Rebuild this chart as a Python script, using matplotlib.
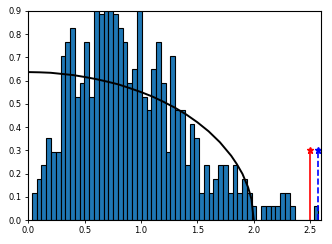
import numpy as np
import matplotlib
matplotlib.use("Agg")
import matplotlib.pyplot as plt

# histogram counts per bin (400 samples, 60 bins)
counts = [2, 3, 4, 6, 5, 5, 12, 13, 14, 9, 10, 13, 9, 18, 15, 19, 18, 15, 14, 13,
          10, 11, 18, 9, 8, 11, 13, 10, 5, 12, 8, 8, 4, 7, 6, 2, 4, 2, 3, 4,
          4, 2, 4, 2, 3, 2, 1, 0, 1, 1, 1, 1, 2, 2, 1, 0, 0, 0, 0, 1]
n_samples = 400
x_first = 0.033
x_last = 2.574

# quarter-circle curve, points
curve_x = [0.0, 0.1, 0.2, 0.3, 0.4, 0.5, 0.6, 0.7, 0.8, 0.9, 1.0, 1.1, 1.2, 1.3,
           1.4, 1.5, 1.6, 1.7, 1.8, 1.85, 1.9, 1.95, 1.98, 2.0]
curve_y = [0.637, 0.636, 0.634, 0.629, 0.624, 0.616, 0.607, 0.596, 0.584, 0.568,
           0.551, 0.532, 0.509, 0.484, 0.455, 0.421, 0.382, 0.335, 0.277, 0.241,
           0.199, 0.141, 0.090, 0.0]

red_x = 2.5
blue_x = 2.568
marker_h = 0.3

edges = np.linspace(x_first, x_last, len(counts) + 1)
width = edges[1] - edges[0]
heights = np.array(counts) / (n_samples * width)

plt.rcParams['font.size'] = 6
fig = plt.figure(figsize=(3.32, 2.44), dpi=100)
ax = fig.add_axes([0.085, 0.098, 0.881, 0.857])

ax.bar(edges[:-1], heights, width=width, align='edge', color='#1f77b4',
       edgecolor='black', linewidth=0.8)
ax.plot(curve_x, curve_y, color='black', linewidth=1.4)
ax.plot([red_x, red_x], [0, marker_h], 'r-', linewidth=1.2)
ax.plot([red_x], [marker_h], 'r*', markersize=5)
ax.plot([blue_x, blue_x], [0, marker_h], 'b--', linewidth=1.2)
ax.plot([blue_x], [marker_h], 'b*', markersize=5)

ax.set_xlim(0, 2.594)
ax.set_ylim(0, 0.9)
ax.set_xticks([0.0, 0.5, 1.0, 1.5, 2.0, 2.5])
ax.set_yticks(np.arange(0, 0.91, 0.1))
ax.tick_params(length=2.5, width=0.6, pad=2)

fig.savefig('out.png', dpi=100)
